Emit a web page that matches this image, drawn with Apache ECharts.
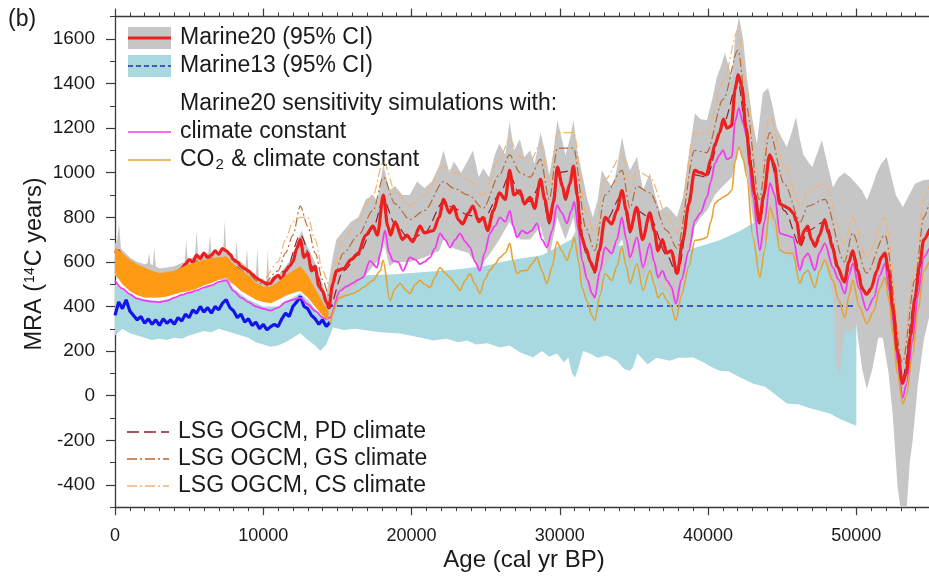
<!DOCTYPE html>
<html>
<head>
<meta charset="utf-8">
<script src="https://cdn.jsdelivr.net/npm/echarts@6/dist/echarts.min.js"></script>
<style>
html,body{margin:0;padding:0;background:#fff;}
#chart{width:929px;height:579px;}
</style>
</head>
<body>
<div id="chart"></div>
<script>
// ---------- DATA (age cal yr BP, MRA 14C years) ----------
const xTickLabels = [0, 10000, 20000, 30000, 40000, 50000];
const yTickLabels = [-400, -200, 0, 200, 400, 600, 800, 1000, 1200, 1400, 1600];

// Marine20 95% CI (gray band)
const m20Upper = [[0,680],[150,700],[270,775],[400,660],[700,640],[1000,620],[1500,600],[2000,590],[2200,595],[2300,640],[2400,590],[2550,585],[2650,665],[2750,580],[3000,570],[3500,575],[4000,580],[4500,595],[4700,600],[4800,697],[4900,610],[5200,620],[5400,625],[5500,741],[5600,630],[6000,635],[6300,640],[6400,720],[6500,640],[7000,645],[7300,650],[7400,786],[7500,650],[8000,610],[8100,600],[8200,700],[8300,595],[8700,570],[8800,570],[8900,660],[9000,560],[9400,530],[9500,530],[9600,665],[9700,520],[10000,510],[10200,510],[10300,650],[10400,515],[11000,540],[11500,580],[12000,620],[12300,690],[12600,740],[12900,680],[13200,640],[13600,580],[14000,500],[14250,450],
[14430,520],[14680,620],[14925,700],[15420,740],[15920,780],[16410,800],[16905,880],[17400,900],[17700,870],[18100,1040],[18495,920],[18890,940],[19385,900],[19880,900],[20375,960],[20870,930],[21365,960],[21860,1030],[22160,1100],[22555,1000],[22850,1050],[23345,1000],[23840,1060],[24140,1100],[24535,980],[24830,1020],[25225,980],[25620,1080],[25920,1130],[26320,1080],[26615,1230],[26910,1100],[27310,1150],[27605,1070],[28000,1100],[28300,1040],[28695,1180],[28990,1100],[29290,990],[29585,1100],[29835,1236],[30180,1140],[30380,1080],[30675,1150],[30925,1236],[31170,1100],[31555,980],[31865,880],[32230,800],[32560,880],[32835,1011],[33255,960],[33580,935],[33850,1020],[34195,1160],[34490,1060],[34730,1011],[35205,1070],[35610,921],[36075,998],[36420,900],[36750,831],[37215,850],[37510,830],[37900,800],[38305,890],[38700,1080],[39115,1267],[39495,1240],[39920,1236],[40285,1330],[40595,1429],[40880,1480],[41135,1537],[41375,1480],[41605,1429],[41820,1600],[42080,1700],[42365,1600],[42615,1430],[42960,1250],[43290,1132],[43695,1357],[44050,1380],[44345,1300],[44640,1200],[44940,1160],[45315,1115],[45635,1180],[45930,1250],[46190,1150],[46430,1080],[46625,1060],[47020,1025],[47320,1080],[47675,1146],[48010,1050],[48420,935],[48805,980],[49200,1000],[49600,980],[49990,950],[50390,920],[50705,876],[51080,940],[51380,1000],[51680,1040],[52050,1070],[52370,980],[52665,900],[53135,845],[53560,900],[53955,950],[54480,966],[54900,970]];
const m20Lower = [[0,540],[1000,470],[2000,440],[3000,440],[4000,455],[5000,470],[6000,495],[7000,520],[8000,500],[9000,450],[10000,420],[11000,430],[12000,460],[12500,470],[13000,440],[13500,400],[14000,360],[14430,340],
[14925,420],[15920,470],[16905,540],[17900,620],[18100,700],[18495,580],[18890,600],[19880,600],[20870,620],[21860,650],[22160,700],[22850,660],[23840,640],[24535,570],[25325,640],[25920,700],[26615,780],[27310,700],[28000,700],[28695,760],[29290,620],[29835,800],[30380,700],[30925,800],[31465,560],[31865,460],[32360,420],[33055,580],[34195,700],[34740,560],[35205,650],[35610,520],[36075,600],[36720,480],[37215,470],[37910,380],[38700,640],[39115,760],[39500,800],[39920,830],[40465,900],[41000,940],[41605,980],[42080,1120],[42615,1000],[43020,800],[43300,700],[43495,600],[44170,800],[44840,650],[45725,620],[46190,560],[46735,600],[47200,560],[47875,600],[48420,450],[48610,150],[48910,100],[49230,300],[49600,280],[49990,320],[50390,120],[50705,30],[51080,120],[51480,260],[51780,260],[52175,100],[52470,-100],[52770,-400],[52965,-500],[53400,-500],[53600,-300],[53800,-200],[54150,50],[54550,250],[54900,350]];

// Marine13 95% CI (light blue band)
const m13Upper = [[0,500],[1000,450],[2000,430],[3000,425],[4000,440],[5000,460],[6000,480],[7000,505],[7500,515],[8000,480],[9000,430],[10000,400],[11000,400],[12000,440],[12500,460],[13000,430],[13500,390],[14000,360],[14430,480],[14925,560],[16905,540],[18890,545],[20870,555],[22850,565],[24830,580],[26815,610],[28795,630],[30775,700],[31075,740],[31375,680],[32760,660],[34740,680],[36720,680],[38205,650],[39195,665],[40780,697],[42170,740],[43020,773],[43655,786],[44645,820],[45635,840],[46625,860],[47615,880],[48605,900],[50000,930]];
const m13Lower = [[0,270],[500,300],[1000,280],[1500,270],[2000,260],[2500,250],[3000,255],[3500,250],[4000,260],[4500,255],[5000,270],[5500,280],[6000,290],[6500,285],[7000,300],[7500,290],[8000,280],[8500,270],[9000,260],[9500,240],[10000,230],[10500,220],[11000,225],[11500,240],[12000,260],[12500,280],[13000,250],[13500,225],[13850,202],[14250,230],[14700,306],[15420,295],[16220,300],[17000,292],[17900,285],[19215,279],[19880,270],[20670,260],[21450,247],[22360,255],[23150,240],[23740,247],[24340,230],[25130,235],[25960,216],[26615,225],[27310,195],[28190,171],[28795,200],[29290,175],[29805,189],[30280,150],[30580,170],[30825,100],[31025,81],[31225,120],[31570,200],[32035,189],[32560,170],[33155,180],[33850,157],[34340,120],[34740,112],[34930,126],[35235,189],[35930,140],[36520,170],[37410,157],[38000,170],[38990,171],[39690,150],[40185,130],[40780,112],[41375,110],[42070,85],[43060,54],[43850,40],[44445,10],[45340,-36],[46135,-40],[46825,-55],[47515,-67],[48210,-80],[48900,-105],[49600,-125],[50000,-135]];

// Holocene envelope of the dense orange simulation curves
const holoOrangeUpper = [[0,665],[500,640],[1000,610],[1500,590],[2000,575],[2500,560],[3000,550],[3500,555],[4000,560],[4500,575],[5000,590],[5500,600],[6000,610],[6500,615],[7000,620],[7500,625],[8000,590],[8500,565],[9000,540],[9500,505],[10000,490],[10500,490],[11000,510],[11500,540],[12000,560],[12500,580],[13000,540],[13500,480],[14000,420],[14400,380]];
const holoOrangeLower = [[0,550],[500,500],[1000,470],[1500,450],[2000,440],[2500,440],[3000,440],[3500,445],[4000,455],[4500,465],[5000,470],[5500,480],[6000,495],[6500,505],[7000,520],[7500,530],[8000,500],[8500,470],[9000,450],[9500,430],[10000,420],[10500,415],[11000,430],[11500,450],[12000,460],[12500,470],[13000,440],[13500,400],[14000,360],[14400,340]];

// Marine20 mean
const marine20 = [[0,640],[250,650],[500,610],[750,600],[1000,580],[1250,570],[1500,560],[1750,555],[2000,550],[2250,545],[2500,540],[2750,535],[3000,530],[3250,535],[3500,540],[3750,545],[4000,550],[4250,555],[4500,570],[4750,590],[5000,610],[5250,600],[5500,630],[5750,615],[6000,640],[6250,620],[6500,630],[6750,650],[7000,635],[7250,660],[7500,650],[7750,635],[8000,610],[8250,600],[8500,580],[8750,570],[9000,560],[9250,545],[9500,530],[9750,520],[10000,510],[10250,500],[10500,505],[10750,530],[11000,540],[11250,520],[11500,560],[11750,580],[12000,600],[12250,660],[12500,700],[12750,620],[13000,640],[13250,560],[13500,580],[13750,490],[14000,470],[14250,420],
[14430,400],[14680,500],[14925,560],[15420,570],[15920,610],[16410,640],[16905,720],[17400,760],[17700,720],[18100,900],[18395,760],[18590,720],[18890,780],[19385,700],[19680,720],[20080,690],[20570,760],[20870,730],[21465,740],[21860,800],[22160,880],[22555,820],[22850,850],[23150,790],[23445,770],[23840,820],[24140,850],[24535,780],[24830,800],[25130,740],[25525,830],[25920,910],[26320,880],[26615,1010],[26910,900],[27310,920],[27605,860],[28000,890],[28300,840],[28695,970],[28990,880],[29290,780],[29585,870],[29835,1025],[30180,940],[30380,880],[30675,950],[30925,1030],[31170,900],[31420,720],[31765,660],[32065,600],[32360,560],[32660,650],[33055,800],[33500,770],[33850,830],[34195,920],[34490,830],[34740,740],[35185,845],[35580,700],[36075,820],[36370,740],[36620,650],[36920,700],[37215,640],[37510,650],[37910,550],[38305,700],[38700,860],[39095,1010],[39495,1000],[39890,990],[40185,1060],[40485,1130],[40780,1180],[41030,1240],[41275,1200],[41575,1210],[41820,1370],[42020,1440],[42270,1390],[42565,1200],[42860,1030],[43160,900],[43455,780],[43755,900],[44150,1080],[44445,1040],[44840,860],[45140,850],[45435,840],[45735,820],[45980,780],[46230,680],[46475,740],[46725,760],[46970,700],[47220,670],[47515,720],[47865,790],[48110,730],[48410,660],[48705,580],[49200,510],[49500,600],[49745,650],[50090,560],[50390,480],[50690,455],[50985,480],[51380,560],[51680,620],[51925,640],[52175,560],[52470,390],[52770,200],[53115,55],[53360,100],[53660,270],[53955,440],[54250,580],[54550,700],[54900,740]];

// Marine13 mean (Holocene, noisy) and constant glacial value
const marine13Holo = [[0,360],[250,420],[500,390],[750,430],[1000,380],[1250,360],[1500,340],[1750,355],[2000,325],[2250,345],[2500,320],[2750,340],[3000,315],[3250,345],[3500,325],[3750,340],[4000,320],[4250,350],[4500,335],[4750,365],[5000,350],[5250,385],[5500,370],[5750,400],[6000,375],[6250,395],[6500,370],[6750,400],[7000,385],[7250,415],[7500,430],[7750,395],[8000,380],[8250,350],[8500,365],[8750,330],[9000,345],[9250,315],[9500,330],[9750,300],[10000,320],[10250,295],[10500,310],[10750,320],[11000,310],[11250,345],[11500,370],[11750,355],[12000,400],[12250,420],[12500,445],[12750,400],[13000,390],[13250,360],[13500,345],[13750,320],[14000,340],[14250,310],[14500,330]];
const marine13Glacial = [[14300,402],[50000,402]];

// Sensitivity: climate constant
const climConst = [[0,515],[500,480],[1000,455],[1500,435],[2000,427],[2500,422],[3000,420],[3500,425],[4000,440],[4500,452],[5000,462],[5500,472],[6000,485],[6500,495],[7000,510],[7500,517],[8000,470],[8500,440],[9000,420],[9500,400],[10000,390],[10500,382],[11000,395],[11500,420],[12000,430],[12500,440],[13000,410],[13500,380],[14000,350],[14250,345],
[14500,350],[15175,470],[15620,490],[16045,505],[16410,520],[16720,530],[17190,605],[17670,575],[17900,640],[18205,740],[18495,640],[18750,605],[19090,600],[19425,560],[19880,620],[20270,610],[20560,590],[20870,600],[21245,620],[21565,660],[21920,728],[22260,700],[22595,665],[22950,700],[23265,728],[23640,690],[23940,665],[24285,600],[24615,560],[24930,640],[25285,728],[25625,760],[25960,800],[26320,780],[26635,830],[26860,760],[27110,710],[27455,740],[27785,728],[28100,740],[28460,773],[28795,700],[29130,665],[29490,740],[29805,855],[30135,820],[30480,773],[30775,830],[30975,870],[31270,740],[31490,607],[31865,520],[32160,460],[32360,440],[32710,560],[33045,665],[33510,638],[33850,700],[34185,800],[34490,700],[34730,620],[35205,710],[35610,575],[36075,683],[36370,600],[36620,530],[36920,560],[37225,517],[37510,490],[37830,413],[38205,520],[38700,650],[39115,786],[39495,820],[39920,890],[40185,960],[40465,1043],[40780,1080],[41000,1101],[41275,1060],[41605,1070],[41820,1230],[42080,1290],[42365,1220],[42615,1160],[43020,890],[43495,652],[43805,780],[44170,953],[44495,900],[44840,728],[45240,720],[45725,710],[46190,562],[46475,620],[46735,638],[47200,562],[47515,640],[47875,683],[48420,575],[48805,520],[49230,458],[49500,540],[49765,593],[50190,480],[50705,382],[51180,440],[51580,540],[51925,593],[52220,470],[52460,337],[52770,150],[53135,-9],[53360,50],[53805,247],[54150,450],[54550,620],[54900,660]];

// Sensitivity: CO2 & climate constant
const co2ClimConst = [[14500,324],[15175,440],[15620,450],[16045,458],[16410,470],[16720,485],[17400,517],[17900,560],[18080,607],[18550,427],[18890,480],[19215,503],[19680,470],[19880,458],[20270,500],[20560,517],[20870,500],[21245,485],[21565,530],[21920,575],[22260,550],[22595,530],[22950,500],[23265,472],[23640,520],[23940,548],[24285,500],[24615,458],[24930,520],[25285,562],[25625,590],[25960,620],[26320,640],[26635,683],[26860,600],[27110,548],[27455,560],[27785,562],[28100,590],[28460,620],[28795,560],[29130,503],[29490,580],[29805,690],[30135,650],[30480,607],[30775,660],[30975,710],[31270,600],[31490,485],[31865,420],[32160,360],[32360,337],[32710,450],[33045,548],[33510,517],[33850,580],[34185,665],[34490,580],[34730,503],[35205,593],[35610,472],[36075,562],[36370,500],[36620,440],[36920,460],[37225,427],[37510,400],[37830,337],[38205,450],[38700,580],[39115,697],[39495,700],[39920,710],[40185,780],[40465,863],[40780,880],[41000,890],[41275,900],[41605,921],[41820,1050],[42080,1115],[42365,1060],[42615,980],[43020,710],[43495,530],[43805,650],[44170,845],[44495,790],[44840,652],[45240,640],[45725,638],[46190,503],[46475,550],[46735,562],[47200,485],[47515,560],[47875,607],[48420,517],[48805,430],[49230,350],[49500,450],[49765,517],[50190,400],[50705,324],[51180,380],[51580,480],[51925,530],[52220,420],[52460,279],[52770,100],[53135,-36],[53360,0],[53805,189],[54150,380],[54550,560],[54900,600]];

// LSG OGCM runs
const lsgPD = [[0,560],[2000,480],[4000,490],[6000,590],[8000,580],[10000,480],[11500,560],[12500,720],[13500,560],[14430,390],[15420,560],[16410,630],[17400,750],[18100,880],[18890,770],[19880,700],[20870,730],[22160,870],[22850,840],[23840,810],[24830,790],[25920,900],[26615,990],[27310,900],[28000,870],[28695,950],[29290,770],[29835,1000],[30925,1010],[31765,640],[32360,550],[33055,780],[34195,900],[34740,730],[35185,830],[36075,800],[37215,630],[37910,545],[39095,990],[39890,980],[41030,1220],[42020,1410],[42565,1190],[43455,770],[44150,1060],[45140,830],[46230,670],[46725,740],[47865,780],[49200,510],[49745,640],[50690,450],[51925,630],[53115,80],[53955,430],[54550,700],[54900,750]];
const lsgGS = [[0,600],[2000,520],[4000,530],[6000,620],[8000,600],[10000,500],[11000,560],[11500,640],[12000,720],[12500,850],[13000,760],[13500,640],[14000,520],[14430,450],[15420,640],[16410,720],[17400,830],[18100,980],[18890,860],[19880,790],[20870,830],[22160,960],[22850,930],[23840,900],[24830,840],[25920,990],[26615,1080],[27310,1000],[28000,980],[28695,1060],[29290,880],[29835,1110],[30925,1110],[31765,750],[32360,650],[33055,900],[34195,1010],[34740,840],[35185,940],[36075,910],[37215,740],[37910,660],[39095,1100],[39890,1090],[41030,1330],[42020,1550],[42565,1300],[43455,880],[44150,1180],[45140,950],[46230,780],[46725,850],[47865,880],[49200,600],[49745,730],[50690,550],[51925,720],[53115,150],[53955,520],[54550,800],[54900,860]];
const lsgCS = [[0,620],[2000,540],[4000,550],[6000,630],[8000,610],[10000,520],[11000,600],[11500,700],[12000,780],[12500,800],[13000,800],[13500,700],[14000,560],[14430,500],[15420,700],[16410,790],[17400,900],[18100,1050],[18890,920],[19880,850],[20870,900],[22160,1030],[22850,1000],[23840,970],[24830,900],[25920,1060],[26615,1150],[27310,1070],[28000,1050],[28695,1130],[29290,950],[29835,1180],[30925,1180],[31765,820],[32360,720],[33055,970],[34195,1080],[34740,910],[35185,1010],[36075,980],[37215,810],[37910,730],[39095,1180],[39890,1170],[41030,1410],[42020,1640],[42565,1380],[43455,950],[44150,1260],[45140,1030],[46230,850],[46725,920],[47865,950],[49200,680],[49745,800],[50690,620],[51925,800],[53115,200],[53955,580],[54550,880],[54900,940]];

// ---------- STYLE ----------
const C = {
  gray: '#c6c6c6', lightBlue: '#a8d9e0', red: '#ee1f1f', blue: '#1414e8', blueDash: '#1e2fae',
  magenta: '#f03cf0', gold: '#e6a232', orange: '#ff9a14', pd: '#8e2030', gs: '#b8682e', cs: '#f4b274',
  text: '#1a1a1a', axis: '#3a3a3a'
};
const FONT = 'Liberation Sans, Arial, Helvetica, sans-serif';
const LEG = 23;

function band(upper, lower, color, z) {
  return {
    type: 'custom', z: z, silent: true, clip: true, data: [[0, 0]],
    renderItem: function (params, api) {
      const pts = upper.map(p => api.coord(p)).concat(lower.slice().reverse().map(p => api.coord(p)));
      return { type: 'polygon', shape: { points: pts }, style: { fill: color } };
    }
  };
}
function line(data, color, width, type, z, smooth) {
  return {
    type: 'line', data: data, showSymbol: false, symbol: 'none', silent: true, clip: true, z: z,
    smooth: smooth || false, smoothMonotone: 'x',
    lineStyle: { color: color, width: width, type: type || 'solid' }
  };
}
const plain = v => String(v);

const xBase = { type: 'value', min: 0, max: 54900, splitLine: { show: false }, gridIndex: 0 };
const yBase = { type: 'value', min: -500, max: 1700, splitLine: { show: false }, gridIndex: 0 };

const chart = echarts.init(document.getElementById('chart'), null, { renderer: 'canvas' });
const option = {
  backgroundColor: '#fff',
  animation: false,
  grid: { left: 115, top: 16.6, width: 814, height: 490.6, containLabel: false },
  xAxis: [
    Object.assign({}, xBase, { position: 'bottom', interval: 1000,
      axisLine: { show: true, onZero: false, lineStyle: { color: C.axis, width: 1.3 } },
      axisTick: { show: true, length: 4, lineStyle: { color: C.axis } }, axisLabel: { show: false } }),
    Object.assign({}, xBase, { position: 'bottom',
      axisLine: { show: false, onZero: false },
      axisTick: { show: true, length: 8, customValues: xTickLabels, lineStyle: { color: C.axis, width: 1.2 } },
      axisLabel: { show: true, customValues: xTickLabels, formatter: plain, fontSize: 18, color: C.text, margin: 20, fontFamily: FONT } }),
    Object.assign({}, xBase, { position: 'top', interval: 1000,
      axisLine: { show: true, onZero: false, lineStyle: { color: C.axis, width: 1.3 } },
      axisTick: { show: true, length: 4, lineStyle: { color: C.axis } }, axisLabel: { show: false } }),
    Object.assign({}, xBase, { position: 'top',
      axisLine: { show: false, onZero: false },
      axisTick: { show: true, length: 8, customValues: xTickLabels, lineStyle: { color: C.axis, width: 1.2 } },
      axisLabel: { show: false } })
  ],
  yAxis: [
    Object.assign({}, yBase, { position: 'left', interval: 100,
      axisLine: { show: true, onZero: false, lineStyle: { color: C.axis, width: 1.3 } },
      axisTick: { show: true, length: 5, lineStyle: { color: C.axis } }, axisLabel: { show: false } }),
    Object.assign({}, yBase, { position: 'left', offset: 0,
      axisLine: { show: false, onZero: false },
      axisTick: { show: true, length: 9, customValues: yTickLabels, lineStyle: { color: C.axis, width: 1.2 } },
      axisLabel: { show: true, customValues: yTickLabels, formatter: plain, fontSize: 19, color: C.text, margin: 20, fontFamily: FONT } })
  ],
  series: [
    band(m13Upper, m13Lower, C.lightBlue, 1),
    band(m20Upper, m20Lower, C.gray, 2),
    line(marine13Holo, C.blue, 3.2, 'solid', 3),
    line(marine13Glacial, C.blueDash, 1.5, [6, 4], 3),
    line(lsgPD, C.pd, 1.2, [10, 5], 3, 0.3),
    line(lsgGS, C.gs, 1.2, [9, 3, 2, 3], 3, 0.3),
    line(lsgCS, C.cs, 1.2, [9, 3, 2, 3], 3, 0.3),
    line(climConst, C.magenta, 1.8, 'solid', 3, 0.3),
    line(co2ClimConst, C.gold, 1.6, 'solid', 3, 0.3),
    line(marine20, C.red, 3.2, 'solid', 4, 0.3),
    band(holoOrangeUpper, holoOrangeLower, C.orange, 5)
  ],
  graphic: [
    { type: 'text', x: 8, y: 20, style: { text: '(b)', fontSize: 23, fill: C.text, fontFamily: FONT, verticalAlign: 'middle' } },
    // legend: Marine20
    { type: 'rect', shape: { x: 128, y: 27, width: 43, height: 22 }, style: { fill: C.gray } },
    { type: 'line', shape: { x1: 128, y1: 38, x2: 171, y2: 38 }, style: { stroke: C.red, lineWidth: 3 } },
    { type: 'text', x: 180, y: 38, style: { text: 'Marine20 (95% CI)', fontSize: LEG, fill: C.text, fontFamily: FONT, verticalAlign: 'middle' } },
    // legend: Marine13
    { type: 'rect', shape: { x: 128, y: 55, width: 43, height: 22 }, style: { fill: C.lightBlue } },
    { type: 'line', shape: { x1: 128, y1: 66, x2: 171, y2: 66 }, style: { stroke: C.blueDash, lineWidth: 1.5, lineDash: [5, 3] } },
    { type: 'text', x: 180, y: 66, style: { text: 'Marine13 (95% CI)', fontSize: LEG, fill: C.text, fontFamily: FONT, verticalAlign: 'middle' } },
    { type: 'text', x: 180, y: 104, style: { text: 'Marine20 sensitivity simulations with:', fontSize: LEG, fill: C.text, fontFamily: FONT, verticalAlign: 'middle' } },
    { type: 'line', shape: { x1: 128, y1: 132, x2: 171, y2: 132 }, style: { stroke: C.magenta, lineWidth: 1.6 } },
    { type: 'text', x: 180, y: 132, style: { text: 'climate constant', fontSize: LEG, fill: C.text, fontFamily: FONT, verticalAlign: 'middle' } },
    { type: 'line', shape: { x1: 128, y1: 160, x2: 171, y2: 160 }, style: { stroke: C.gold, lineWidth: 1.6 } },
    { type: 'text', x: 180, y: 160, style: { text: 'CO{sub|2} & climate constant', fontSize: LEG, fill: C.text, fontFamily: FONT, verticalAlign: 'middle',
      rich: { sub: { fontSize: 15, fill: C.text, fontFamily: FONT, padding: [10, 1, 0, 1] } } } },
    // legend: LSG runs
    { type: 'line', shape: { x1: 127, y1: 432, x2: 169, y2: 432 }, style: { stroke: C.pd, lineWidth: 1.3, lineDash: [12, 5] } },
    { type: 'text', x: 178, y: 432, style: { text: 'LSG OGCM, PD climate', fontSize: LEG, fill: C.text, fontFamily: FONT, verticalAlign: 'middle' } },
    { type: 'line', shape: { x1: 127, y1: 459, x2: 169, y2: 459 }, style: { stroke: C.gs, lineWidth: 1.3, lineDash: [10, 3, 2, 3] } },
    { type: 'text', x: 178, y: 459, style: { text: 'LSG OGCM, GS climate', fontSize: LEG, fill: C.text, fontFamily: FONT, verticalAlign: 'middle' } },
    { type: 'line', shape: { x1: 127, y1: 486, x2: 169, y2: 486 }, style: { stroke: C.cs, lineWidth: 1.3, lineDash: [10, 3, 2, 3] } },
    { type: 'text', x: 178, y: 486, style: { text: 'LSG OGCM, CS climate', fontSize: LEG, fill: C.text, fontFamily: FONT, verticalAlign: 'middle' } },
    // axis titles
    { type: 'text', x: 524, y: 560, style: { text: 'Age (cal yr BP)', fontSize: 24, fill: C.text, fontFamily: FONT, align: 'center', verticalAlign: 'middle' } },
    { type: 'text', x: 35, y: 264, rotation: Math.PI / 2,
      style: { text: 'MRA ({sup|14}C years)', fontSize: 23.5, fill: C.text, fontFamily: FONT, align: 'center', verticalAlign: 'middle',
        rich: { sup: { fontSize: 14, fill: C.text, fontFamily: FONT, padding: [0, 1, 10, 1] } } } }
  ]
};
chart.setOption(option);
</script>
</body>
</html>
